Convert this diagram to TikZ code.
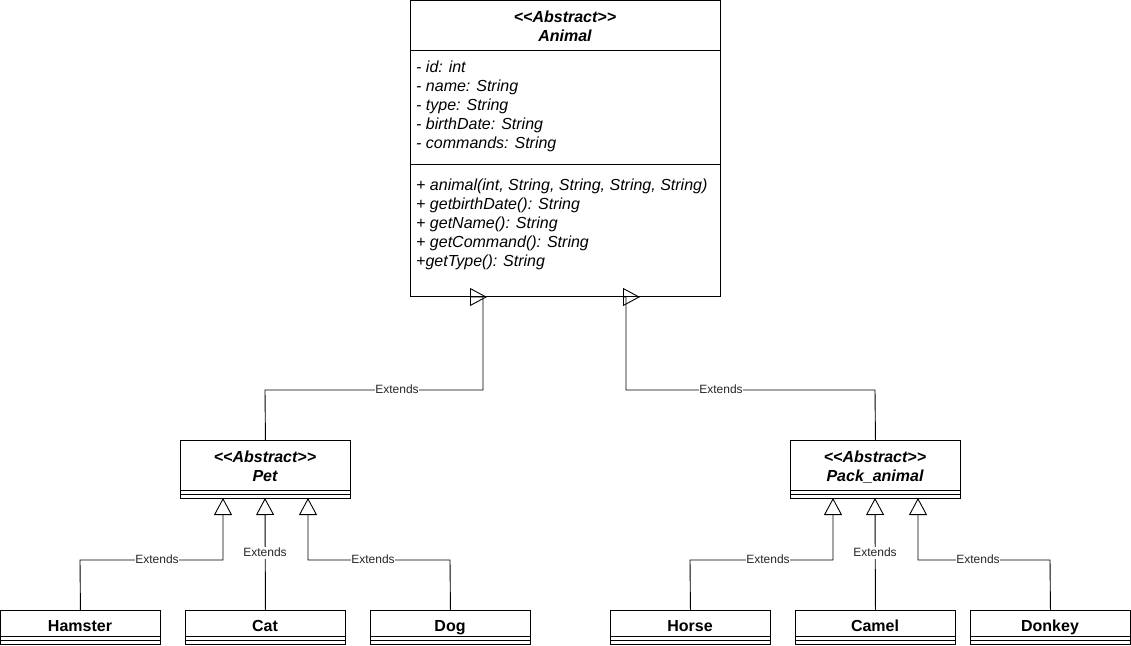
\documentclass[tikz,border=0pt]{standalone}
\usepackage{fontspec}
\setmainfont{Liberation Sans}
\usetikzlibrary{arrows.meta}
\newcommand{\guil}[1]{{<}{<}#1{>}{>}}
\begin{document}
\begin{tikzpicture}[x=1pt,y=-1pt,
  box/.style={draw, line width=0.9pt, anchor=north west, inner sep=0pt},
  cls/.style={inner sep=0pt, text height=11.5pt, text depth=3.5pt, font=\fontsize{16}{18}\selectfont\bfseries},
  abs/.style={inner sep=0pt, text height=11.5pt, text depth=3.5pt, font=\fontsize{16}{18}\selectfont\bfseries\itshape},
  mem/.style={inner sep=0pt, anchor=west, text height=11.5pt, text depth=3.5pt, font=\fontsize{16}{18}\selectfont\itshape},
  lbl/.style={fill=white, inner sep=0.5pt, text height=8.5pt, text depth=2.5pt, text=black!85, font=\fontsize{12}{13}\selectfont},
  conn/.style={line width=0.9pt, -{Triangle[open, width=18pt, length=17pt]}},
  sep/.style={line width=0.9pt}]
\useasboundingbox (0,0) rectangle (1131,645);

% Animal
\node[box, minimum width=310pt, minimum height=296pt] (animal) at (410,0) {};
\draw[sep] (410,50) -- (720,50);
\draw[sep] (410,164) -- (720,164);
\node[abs] (a1) at (565,18) {\guil{Abstract}};
\node[abs] (a2) at (565,37) {Animal};
\node[mem] (m1) at (416,68) {- id: int};
\node[mem] (m2) at (416,87) {- name: String};
\node[mem] (m3) at (416,106) {- type: String};
\node[mem] (m4) at (416,125) {- birthDate: String};
\node[mem] (m5) at (416,144) {- commands: String};
\node[mem] (f1) at (416,186) {+ animal(int, String, String, String, String)};
\node[mem] (f2) at (416,205) {+ getbirthDate(): String};
\node[mem] (f3) at (416,224) {+ getName(): String};
\node[mem] (f4) at (416,243) {+ getCommand(): String};
\node[mem] (f5) at (416,262) {+getType(): String};

% Pet
\node[box, minimum width=170pt, minimum height=58pt] (pet) at (180,440) {};
\draw[sep] (180,490) -- (350,490);
\draw[sep] (180,494) -- (350,494);
\node[abs] (p1) at (265,458) {\guil{Abstract}};
\node[abs] (p2) at (265,477) {Pet};

% Pack_animal
\node[box, minimum width=170pt, minimum height=58pt] (pack) at (790,440) {};
\draw[sep] (790,490) -- (960,490);
\draw[sep] (790,494) -- (960,494);
\node[abs] (k1) at (875,458) {\guil{Abstract}};
\node[abs] (k2) at (875,477) {Pack\_animal};

% leaf classes
\foreach \n/\x/\t in {ham/0/Hamster, cat/185/Cat, dog/370/Dog, horse/610/Horse, camel/795/Camel, donkey/970/Donkey}{
  \node[box, minimum width=160pt, minimum height=34pt] (\n) at (\x,610) {};
  \draw[sep] (\x,636) -- ++(160,0);
  \draw[sep] (\x,640) -- ++(160,0);
  \node[cls] (\n t) at ([xshift=80pt]\x,627) {\t};
}

% tip coordinates
\coordinate (tA) at (487,297);
\coordinate (tB) at (640,297);
\coordinate (tP1) at (223,498);
\coordinate (tP2) at (265,498);
\coordinate (tP3) at (308,498);
\coordinate (tK1) at (833,498);
\coordinate (tK2) at (875,498);
\coordinate (tK3) at (918,498);

% top connectors
\draw[conn] (pet.north) -- (265,390) -- (483,390) -- (483,297) -- (tA);
\node[lbl] (l1) at (397,390) {Extends};
\draw[conn] (pack.north) -- (875,390) -- (626,390) -- (626,297) -- (tB);
\node[lbl] (l2) at (721,390) {Extends};

% Pet children
\draw[conn] (ham.north) -- (80,560) -- (223,560) -- (tP1);
\node[lbl] (l3) at (157,560) {Extends};
\draw[conn] (cat.north) -- (tP2);
\node[lbl] (l4) at (265,553) {Extends};
\draw[conn] (dog.north) -- (450,560) -- (308,560) -- (tP3);
\node[lbl] (l5) at (373,560) {Extends};

% Pack children
\draw[conn] (horse.north) -- (690,560) -- (833,560) -- (tK1);
\node[lbl] (l6) at (768,560) {Extends};
\draw[conn] (camel.north) -- (tK2);
\node[lbl] (l7) at (875,553) {Extends};
\draw[conn] (donkey.north) -- (1050,560) -- (918,560) -- (tK3);
\node[lbl] (l8) at (978,560) {Extends};
\end{tikzpicture}
\end{document}
